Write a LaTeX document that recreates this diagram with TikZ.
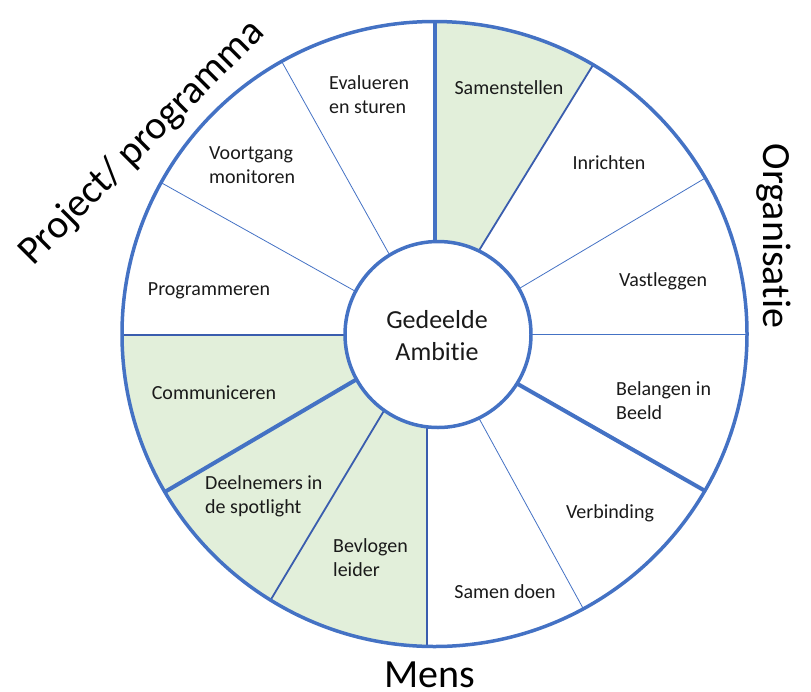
\documentclass[tikz,border=0pt]{standalone}
\usepackage{fontspec}
\setmainfont{Carlito}[Ligatures=NoCommon]
\definecolor{wblue}{HTML}{4472C4}
\definecolor{wdark}{HTML}{3A5DAE}
\definecolor{wgreen}{HTML}{E2EFDA}
\definecolor{txt}{HTML}{1A1A1A}
\begin{document}
\begin{tikzpicture}[x=1pt,y=-1pt,
  thickline/.style={draw=wblue,line width=4pt},
  medline/.style={draw=wdark,line width=1.8pt},
  thinline/.style={draw=wblue,line width=0.8pt},
  lab/.style={font=\fontsize{20}{24}\selectfont,text=txt,align=left,inner sep=0pt},
  biglab/.style={font=\fontsize{40}{48}\selectfont,text=black,inner sep=0pt},
  greenfill/.style={fill=wgreen,draw=none}]
\useasboundingbox (0,0) rectangle (811,691);
\coordinate (O) at (434.5,334);
\coordinate (I) at (438,334.5);
% divider end points (outer / inner)
\coordinate (o90) at (435,18);   \coordinate (i90) at (435,260);
\coordinate (o60) at (593,65);   \coordinate (i60) at (475,257);
\coordinate (o30) at (707,177);  \coordinate (i30) at (510,294);
\coordinate (o0) at (750,334);   \coordinate (i0) at (520,334);
\coordinate (om30) at (707,492); \coordinate (im30) at (509,379);
\coordinate (om60) at (584,610); \coordinate (im60) at (475,411);
\coordinate (om90) at (427,650); \coordinate (im90) at (427,418);
\coordinate (o240) at (270,601); \coordinate (i240) at (388,404);
\coordinate (o210) at (163,493); \coordinate (i210) at (364,375);
\coordinate (o180) at (118,335); \coordinate (i180) at (355,335);
\coordinate (o150) at (160,182); \coordinate (i150) at (362,295);
\coordinate (o120) at (282,62);  \coordinate (i120) at (393,261);
\begin{scope}
  \clip (O) circle[radius=312.5pt];
  \path[greenfill] (i90) -- (435,-10) -- (640,-10) -- (i60) -- cycle;
  \path[greenfill] (i180) -- (90,335) -- (90,710) -- (427,710) -- (im90) -- cycle;
  \draw[thinline] (i30) -- (o30);
  \draw[thinline] (i0) -- (o0);
  \draw[thinline] (im60) -- (om60);
  \draw[thinline] (i150) -- (o150);
  \draw[thinline] (i120) -- (o120);
  \draw[medline] (i60) -- (o60);
  \draw[medline] (im90) -- (om90);
  \draw[medline] (i240) -- (o240);
  \draw[medline] (i180) -- (o180);
  \draw[thickline] (i90) -- (o90);
  \draw[thickline] (im30) -- (om30);
  \draw[thickline] (i210) -- (o210);
\end{scope}
\draw[draw=wblue,line width=3.5pt] (O) circle[radius=312.5pt];
\draw[draw=wblue,line width=3.5pt,fill=white] (I) circle[radius=93pt];
% labels
\node[font=\fontsize{26}{32}\selectfont,text=txt,align=center,inner sep=0pt] (amb) at (437,336) {Gedeelde\\Ambitie};
\node[lab,anchor=base] (samen) at (509,94.5) {Samenstellen};
\node[lab,anchor=base] (inr) at (609,169.5) {Inrichten};
\node[lab,anchor=base] (vast) at (663,286.5) {Vastleggen};
\node[lab,anchor=west] (bel) at (616,401) {Belangen in\\Beeld};
\node[lab,anchor=base] (verb) at (610,518.5) {Verbinding};
\node[lab,anchor=base] (sd) at (505,598.5) {Samen doen};
\node[lab,anchor=west] (bev) at (333,557.5) {Bevlogen\\leider};
\node[lab,anchor=west] (deel) at (205,496) {Deelnemers in\\de spotlight};
\node[lab,anchor=base] (comm) at (214,399.5) {Communiceren};
\node[lab,anchor=base] (prog) at (209,295.5) {Programmeren};
\node[lab,anchor=west] (voort) at (209,165.5) {Voortgang\\monitoren};
\node[lab,anchor=west] (eval) at (329,94.5) {Evalueren\\en sturen};
\node[biglab,anchor=base] (mens) at (430,687) {Mens};
\node[biglab,rotate=-90] (org) at (774,236) {Organisatie};
\node[biglab,rotate=45] (proj) at (142,143) {Project/ programma};
\end{tikzpicture}
\end{document}
